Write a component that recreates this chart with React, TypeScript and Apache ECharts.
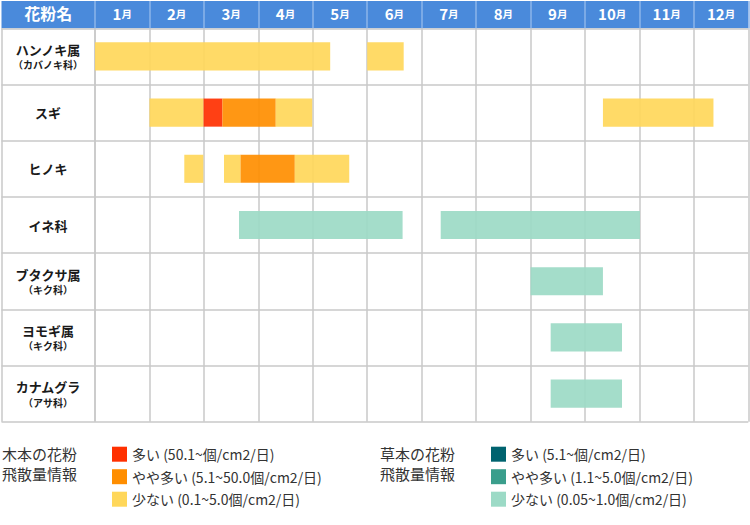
import React, { useEffect, useRef } from "react";
import * as echarts from "echarts";

const FONT = '"Noto Sans CJK JP", "Noto Sans", sans-serif';

const months = ["1", "2", "3", "4", "5", "6", "7", "8", "9", "10", "11", "12"];
const species = ["ハンノキ属", "スギ", "ヒノキ", "イネ科", "ブタクサ属", "ヨモギ属", "カナムグラ"];
const families = ["カバノキ科", "", "", "", "キク科", "キク科", "アサ科"];

// [speciesIndex, startMonth, endMonth] (months counted from 0 = start of January)
const woodyHigh = [[1, 1.99, 2.34]];
const woodyMid = [
  [1, 2.34, 3.32],
  [2, 2.67, 3.67],
];
const woodyLow = [
  [0, 0, 4.32],
  [0, 5.0, 5.67],
  [1, 1.0, 1.99],
  [1, 3.32, 3.99],
  [1, 9.33, 11.36],
  [2, 1.64, 1.99],
  [2, 2.37, 2.67],
  [2, 3.67, 4.67],
];
const herbHigh: number[][] = [];
const herbMid: number[][] = [];
const herbLow = [
  [3, 2.645, 5.65],
  [3, 6.35, 10.01],
  [4, 8.0, 9.33],
  [5, 8.37, 9.68],
  [6, 8.37, 9.68],
];

const woodyNames = ["多い (50.1~個/cm2/日)", "やや多い (5.1~50.0個/cm2/日)", "少ない (0.1~5.0個/cm2/日)"];
const herbNames = ["多い (5.1~個/cm2/日)", "やや多い (1.1~5.0個/cm2/日)", "少ない (0.05~1.0個/cm2/日)"];
const woodyColors = ["#FF3000", "#FF8E00", "#FFD75A"];
const herbColors = ["#00636F", "#3A9E8C", "#9CDAC6"];

const GRID_LINE = "#c9c9c9";
const HEADER_BG = "#4A8ADB";
const HEADER_LINE = "#8DB4EA";

function renderBar(params: any, api: any) {
  const row = api.value(0);
  const p0 = api.coord([api.value(1), row]);
  const p1 = api.coord([api.value(2), row]);
  const h = api.size([0, 1])[1] * 0.5;
  return {
    type: "rect",
    shape: { x: p0[0], y: p0[1] - h / 2, width: p1[0] - p0[0], height: h },
    style: { fill: api.visual("color"), opacity: 0.92 },
  };
}

function barSeries(name: string, color: string, data: number[][]) {
  return {
    type: "custom",
    name,
    xAxisIndex: 0,
    yAxisIndex: 0,
    renderItem: renderBar,
    itemStyle: { color },
    encode: { x: [1, 2], y: 0 },
    data,
  };
}

export default function App() {
  const ref = useRef<HTMLDivElement>(null);
  useEffect(() => {
    if (!ref.current) return;
    const chart = echarts.init(ref.current, null, { renderer: "svg" });
    const top = 28.3;
    const bodyH = 393.4;
    const left = 95;
    const monthsW = 653.3;
    const hiddenValueY = (gridIndex: number) => ({ type: "value", gridIndex, show: false });
    const legendBase = {
      orient: "vertical",
      icon: "rect",
      itemWidth: 15,
      itemHeight: 15,
      itemGap: 7.5,
      padding: 0,
      selectedMode: false,
      textStyle: { fontSize: 14, color: "#333", fontFamily: FONT },
    };
    chart.setOption({
      animation: false,
      textStyle: { fontFamily: FONT },
      grid: [
        { left, top, width: monthsW, height: bodyH },
        { left: 1.5, top, width: left - 1.5, height: bodyH },
        { left, top: 1, width: monthsW, height: top - 1, show: true, backgroundColor: HEADER_BG, borderWidth: 0 },
        { left: 1.5, top: 1, width: left - 1.5, height: top - 1, show: true, backgroundColor: HEADER_BG, borderWidth: 0 },
      ],
      xAxis: [
        {
          type: "value",
          gridIndex: 0,
          min: 0,
          max: 12,
          interval: 1,
          axisLabel: { show: false },
          axisLine: { show: false },
          axisTick: { show: false },
          splitLine: { lineStyle: { color: GRID_LINE, width: 1.5 } },
        },
        {
          type: "value",
          gridIndex: 1,
          min: 0,
          max: 1,
          interval: 1,
          axisLabel: { show: false },
          axisLine: { show: false },
          axisTick: { show: false },
          splitLine: { lineStyle: { color: GRID_LINE, width: 1.5 } },
        },
        {
          type: "category",
          gridIndex: 2,
          position: "top",
          data: months,
          boundaryGap: true,
          z: 5,
          axisLine: { show: false },
          axisTick: { show: false },
          splitLine: { show: true, interval: 0, lineStyle: { color: HEADER_LINE, width: 1.5 } },
          axisLabel: {
            inside: true,
            interval: 0,
            margin: 5,
            formatter: (v: string) => `{n|${v}}{m|月}`,
            rich: {
              n: { fontSize: 15, fontWeight: "bold", color: "#fff", fontFamily: FONT },
              m: { fontSize: 10.5, fontWeight: "bold", color: "#fff", fontFamily: FONT },
            },
          },
        },
        {
          type: "category",
          gridIndex: 3,
          position: "top",
          data: ["花粉名"],
          boundaryGap: true,
          z: 5,
          axisLine: { show: false },
          axisTick: { show: false },
          splitLine: { show: false },
          axisLabel: {
            inside: true,
            interval: 0,
            margin: 4,
            color: "#fff",
            fontSize: 16,
            fontWeight: "bold",
            fontFamily: FONT,
          },
        },
      ],
      yAxis: [
        {
          type: "category",
          gridIndex: 0,
          data: species,
          inverse: true,
          axisLine: { show: false },
          axisTick: { show: false },
          splitLine: { show: true, interval: 0, lineStyle: { color: GRID_LINE, width: 1.5 } },
          axisLabel: {
            interval: 0,
            margin: 47,
            align: "center",
            formatter: (v: string, i: number) =>
              families[i] ? `{a|${v}}\n{b|（${families[i]}）}` : `{a|${v}}`,
            rich: {
              a: { fontSize: 13, fontWeight: "bold", color: "#1a1a1a", lineHeight: 17, fontFamily: FONT },
              b: { fontSize: 10, fontWeight: "bold", color: "#1a1a1a", lineHeight: 14, fontFamily: FONT },
            },
          },
        },
        {
          type: "category",
          gridIndex: 1,
          data: species,
          inverse: true,
          axisLine: { show: false },
          axisTick: { show: false },
          axisLabel: { show: false },
          splitLine: { show: true, interval: 0, lineStyle: { color: GRID_LINE, width: 1.5 } },
        },
        hiddenValueY(2),
        hiddenValueY(3),
      ],
      legend: [
        { ...legendBase, data: woodyNames, left: 112, top: 446.7 },
        { ...legendBase, data: herbNames, left: 491, top: 446.7 },
      ],
      graphic: [
        {
          type: "text",
          left: 2,
          top: 443,
          style: { text: "木本の花粉\n飛散量情報", fontSize: 15, lineHeight: 20, fill: "#333", fontFamily: FONT },
        },
        {
          type: "text",
          left: 380,
          top: 443,
          style: { text: "草本の花粉\n飛散量情報", fontSize: 15, lineHeight: 20, fill: "#333", fontFamily: FONT },
        },
      ],
      series: [
        barSeries(woodyNames[0], woodyColors[0], woodyHigh),
        barSeries(woodyNames[1], woodyColors[1], woodyMid),
        barSeries(woodyNames[2], woodyColors[2], woodyLow),
        barSeries(herbNames[0], herbColors[0], herbHigh),
        barSeries(herbNames[1], herbColors[1], herbMid),
        barSeries(herbNames[2], herbColors[2], herbLow),
      ],
    });
    return () => chart.dispose();
  }, []);
  return <div ref={ref} style={{ width: 750, height: 525, position: "absolute", left: 0, top: 0 }} />;
}
